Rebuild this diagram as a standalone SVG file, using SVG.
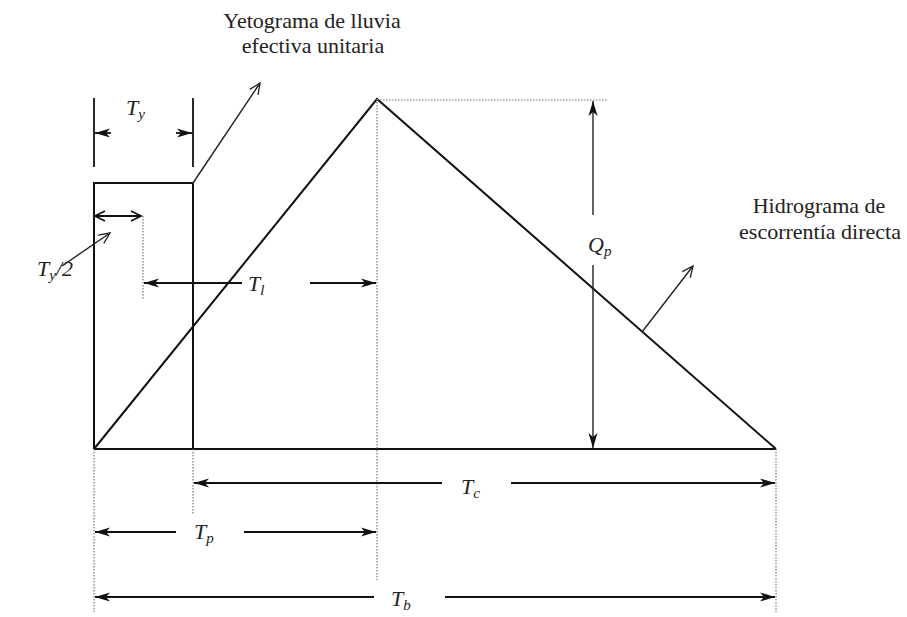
<svg xmlns="http://www.w3.org/2000/svg" width="907" height="617" viewBox="0 0 907 617">
<style>
.main{stroke:#111;stroke-width:2;fill:none}
.dim{stroke:#111;stroke-width:1.8;fill:none}
.thin{stroke:#222;stroke-width:1.4;fill:none}
.dot{stroke:#777;stroke-width:1.2;stroke-dasharray:1.5 1.5;fill:none}
.lbl{font-family:"Liberation Serif","Times New Roman",serif;font-size:22px;fill:#222}
.math{font-family:"Liberation Serif","Times New Roman",serif;font-size:22px;font-style:italic;fill:#222}
.sub{font-size:15px}
</style>
<defs>
<marker id="arr" markerUnits="userSpaceOnUse" markerWidth="16" markerHeight="10" refX="15" refY="5" orient="auto">
<path d="M0,0.5 L15,5 L0,9.5 L4,5 z" fill="#111"/>
</marker>
<marker id="open" markerUnits="userSpaceOnUse" markerWidth="14" markerHeight="12" refX="12" refY="6" orient="auto">
<path d="M1,1 L12,6 L1,11" fill="none" stroke="#222" stroke-width="1.3"/>
</marker>
<marker id="chev" markerUnits="userSpaceOnUse" markerWidth="14" markerHeight="12" refX="12" refY="6" orient="auto-start-reverse">
<path d="M2,1 L12,6 L2,11" fill="none" stroke="#111" stroke-width="1.8"/>
</marker>
</defs>

<g id="hidrograma">
<path class="main" d="M94,449 L377,99 L776,449"/>
<line class="main" x1="94" y1="449" x2="776" y2="449"/>
</g>

<g id="yetograma">
<path class="main" d="M94,449 V183 H193 V449"/>
</g>

<g id="connectors">
<line class="dim" x1="94" y1="98" x2="94" y2="167"/>
<line class="dim" x1="193" y1="98" x2="193" y2="167"/>
<line class="dim" x1="111" y1="133" x2="95" y2="133" marker-end="url(#arr)"/>
<line class="dim" x1="176" y1="133" x2="192" y2="133" marker-end="url(#arr)"/>
<line class="thin" x1="193" y1="183" x2="260" y2="83" marker-end="url(#open)"/>
<line class="dim" x1="95" y1="216" x2="141" y2="216" marker-start="url(#chev)" marker-end="url(#chev)"/>
<line class="dot" x1="143" y1="216" x2="143" y2="300"/>
<line class="thin" x1="62" y1="266" x2="110" y2="233" marker-end="url(#open)"/>
<line class="dim" x1="242" y1="283" x2="144" y2="283" marker-end="url(#arr)"/>
<line class="dim" x1="310" y1="283" x2="376" y2="283" marker-end="url(#arr)"/>
<line class="dot" x1="377" y1="99" x2="377" y2="580"/>
<line class="dot" x1="377" y1="100" x2="608" y2="100"/>
<line class="thin" x1="593" y1="215" x2="593" y2="101" marker-end="url(#arr)"/>
<line class="thin" x1="593" y1="265" x2="593" y2="448" marker-end="url(#arr)"/>
<line class="thin" x1="642" y1="332" x2="693" y2="266" marker-end="url(#open)"/>
<line class="dot" x1="94" y1="449" x2="94" y2="612"/>
<line class="dot" x1="193" y1="449" x2="193" y2="515"/>
<line class="dot" x1="776" y1="449" x2="776" y2="612"/>
<line class="dim" x1="442" y1="483" x2="194" y2="483" marker-end="url(#arr)"/>
<line class="dim" x1="511" y1="483" x2="775" y2="483" marker-end="url(#arr)"/>
<line class="dim" x1="176" y1="532" x2="95" y2="532" marker-end="url(#arr)"/>
<line class="dim" x1="244" y1="532" x2="376" y2="532" marker-end="url(#arr)"/>
<line class="dim" x1="374" y1="597" x2="95" y2="597" marker-end="url(#arr)"/>
<line class="dim" x1="445" y1="597" x2="775" y2="597" marker-end="url(#arr)"/>
</g>

<g id="labels">
<text class="lbl" x="312" y="28" text-anchor="middle">Yetograma de lluvia</text>
<text class="lbl" x="313" y="53" text-anchor="middle">efectiva unitaria</text>
<text class="lbl" x="819" y="213" text-anchor="middle">Hidrograma de</text>
<text class="lbl" x="820" y="239" text-anchor="middle">escorrentía directa</text>
<text class="math" x="126" y="115">T<tspan class="sub" dy="4">y</tspan></text>
<text class="math" x="37" y="276">T<tspan class="sub" dy="4">y</tspan><tspan dy="-4">/2</tspan></text>
<text class="math" x="248" y="291">T<tspan class="sub" dy="4">l</tspan></text>
<text class="math" x="588" y="252">Q<tspan class="sub" dy="4">p</tspan></text>
<text class="math" x="461" y="494">T<tspan class="sub" dy="4">c</tspan></text>
<text class="math" x="194" y="539">T<tspan class="sub" dy="4">p</tspan></text>
<text class="math" x="391" y="606">T<tspan class="sub" dy="4">b</tspan></text>
</g>
</svg>
